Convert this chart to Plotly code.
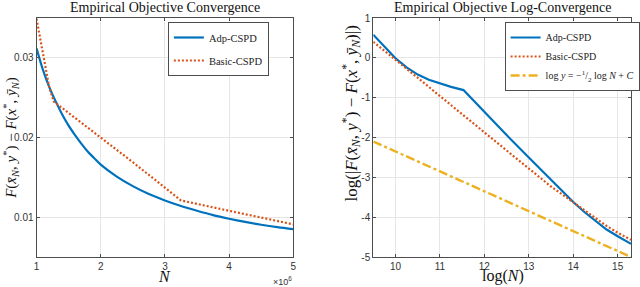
import plotly.graph_objects as go

# ---------------- data ----------------
# Left panel: N (samples) vs objective gap
n_adp = [1.0e6, 1.1e6, 1.2e6, 1.3e6, 1.4e6, 1.5e6, 1.6e6, 1.7e6, 1.8e6, 1.9e6,
         2.0e6, 2.25e6, 2.5e6, 2.75e6, 3.0e6, 3.25e6, 3.5e6, 3.75e6, 4.0e6,
         4.25e6, 4.5e6, 4.75e6, 5.0e6]
gap_adp = [0.0312, 0.0285, 0.0263, 0.0245, 0.0229, 0.0215, 0.0203, 0.0192, 0.0182, 0.0174,
           0.0166, 0.0151, 0.0139, 0.0129, 0.0121, 0.0114, 0.0108, 0.01025, 0.0098,
           0.0094, 0.00905, 0.00875, 0.0085]

n_basic = [1.0e6, 1.05e6, 1.1e6, 1.15e6, 1.2e6, 1.27e6, 2.0e6, 2.5e6, 3.0e6, 3.25e6, 4.0e6, 5.0e6]
gap_basic = [0.0349, 0.0326, 0.0305, 0.0283, 0.0262, 0.0245, 0.0200, 0.0169, 0.0137, 0.0121, 0.0108, 0.0091]

# Right panel: log(N) vs log(gap)
logn_adp = [9.5, 9.75, 10.0, 10.25, 10.5, 10.75, 11.0, 11.25, 11.53, 12.0, 12.5, 13.0,
            13.45, 13.75, 14.0, 14.25, 14.5, 14.75, 15.0, 15.3]
loggap_adp = [0.58, 0.28, -0.01, -0.24, -0.42, -0.55, -0.65, -0.73, -0.81, -1.37, -1.94, -2.50,
              -3.00, -3.33, -3.62, -3.87, -4.10, -4.31, -4.48, -4.67]

logn_basic = [9.5, 10.0, 10.5, 11.0, 11.5, 12.0, 12.5, 13.0, 13.5, 14.0, 14.5, 14.75, 15.0, 15.3]
loggap_basic = [0.40, -0.04, -0.50, -0.96, -1.42, -1.88, -2.33, -2.78, -3.23, -3.62, -4.02, -4.22, -4.39, -4.57]

logn_ref = [9.5, 15.3]
loggap_ref = [-2.10, -5.00]

left_xticks = [1e6, 2e6, 3e6, 4e6, 5e6]
left_xticktext = ["1", "2", "3", "4", "5"]
left_yticks = [0.01, 0.02, 0.03]
left_yticktext = ["0.01", "0.02", "0.03"]
right_xticks = [10, 11, 12, 13, 14, 15]
right_yticks = [1, 0, -1, -2, -3, -4, -5]
right_yticktext = ["1", "0", "-1", "-2", "-3", "-4", "-5"]

# ---------------- styling ----------------
BLUE = "#0072BD"
RED = "#D95319"
YEL = "#EDB120"
W, H = 640, 287
SERIF = "Liberation Serif, DejaVu Serif, serif"
SANS = "Liberation Sans, Arial, sans-serif"

def px(x):
    return x / W

def py(y):
    return 1 - y / H

fig = go.Figure()
fig.add_trace(go.Scatter(x=n_adp, y=gap_adp, mode="lines", name="Adp-CSPD",
                         line=dict(color=BLUE, width=2.2, shape="spline", smoothing=1.0),
                         xaxis="x", yaxis="y", legend="legend", legendgroup="a"))
fig.add_trace(go.Scatter(x=n_basic, y=gap_basic, mode="lines", name="Basic-CSPD",
                         line=dict(color=RED, width=2.2, dash="2px,2px"), xaxis="x", yaxis="y",
                         legend="legend", legendgroup="b"))
fig.add_trace(go.Scatter(x=logn_adp, y=loggap_adp, mode="lines", name="Adp-CSPD",
                         line=dict(color=BLUE, width=2.2), xaxis="x2", yaxis="y2",
                         legend="legend2"))
fig.add_trace(go.Scatter(x=logn_basic, y=loggap_basic, mode="lines", name="Basic-CSPD",
                         line=dict(color=RED, width=2.2, dash="2px,2px"), xaxis="x2", yaxis="y2",
                         legend="legend2"))
fig.add_trace(go.Scatter(x=logn_ref, y=loggap_ref, mode="lines",
                         name="log <i>y</i> = −<sup>1</sup>/<sub>2</sub> log <i>N</i> + <i>C</i>",
                         line=dict(color=YEL, width=2.4, dash="9px,3px,3px,3px"),
                         xaxis="x2", yaxis="y2", legend="legend2"))

axis_common = dict(showline=True, linecolor="#4d4d4d", linewidth=1, mirror="allticks",
                   ticks="inside", ticklen=3, tickcolor="#4d4d4d", showgrid=True,
                   gridcolor="#e6e6e6", gridwidth=1, zeroline=False, automargin=False,
                   tickfont=dict(family=SANS, size=10, color="#333333"))

y_dom = [py(257), py(18)]
fig.update_layout(
    width=W, height=H, margin=dict(l=0, r=0, t=0, b=0),
    paper_bgcolor="white", plot_bgcolor="white",
    xaxis=dict(domain=[px(37), px(297)], range=[1e6, 5e6], tickvals=left_xticks,
               ticktext=left_xticktext, anchor="y", **axis_common),
    yaxis=dict(domain=y_dom, range=[0.005, 0.035], tickvals=left_yticks,
               ticktext=left_yticktext, anchor="x", **axis_common),
    xaxis2=dict(domain=[px(378), px(639)], range=[9.5, 15.3], tickvals=right_xticks,
                anchor="y2", **axis_common),
    yaxis2=dict(domain=y_dom, range=[-5, 1], tickvals=right_yticks,
                ticktext=right_yticktext, anchor="x2", **axis_common),
    legend=dict(x=px(170), y=py(22), xanchor="left", yanchor="top",
                bordercolor="#4d4d4d", borderwidth=1, bgcolor="white",
                font=dict(family=SERIF, size=10.5, color="#222"), itemwidth=30,
                tracegroupgap=4),
    legend2=dict(x=px(511), y=py(22), xanchor="left", yanchor="top",
                 bordercolor="#4d4d4d", borderwidth=1, bgcolor="white",
                 font=dict(family=SERIF, size=10, color="#222"), itemwidth=30,
                 tracegroupgap=0),
    showlegend=True,
)

ann = []
# Titles
ann.append(dict(text="Empirical Objective Convergence", x=px(167), y=py(8),
                font=dict(family=SERIF, size=14, color="#111")))
ann.append(dict(text="Empirical Objective Log-Convergence", x=px(509), y=py(8),
                font=dict(family=SERIF, size=14, color="#111")))
# x labels
ann.append(dict(text="<i>N</i>", x=px(167), y=py(287), yanchor="bottom",
                font=dict(family=SERIF, size=16, color="#111")))
ann.append(dict(text="log(<i>N</i>)", x=px(509), y=py(287), yanchor="bottom",
                font=dict(family=SERIF, size=16, color="#111")))
# x10^6
ann.append(dict(text="×10<sup>6</sup>", x=px(298), y=py(281), xanchor="right",
                font=dict(family=SANS, size=9, color="#333")))
# y labels
ann.append(dict(text="<i>F</i>(<i>x̄</i><sub><i>N</i></sub>, <i>y</i><sup>*</sup>) − "
                     "<i>F</i>(<i>x</i><sup>*</sup>, <i>ȳ</i><sub><i>N</i></sub>)",
                x=px(11), y=py(138), textangle=-90,
                font=dict(family=SERIF, size=15, color="#111")))
ann.append(dict(text="log(|<i>F</i>(<i>x̄</i><sub><i>N</i></sub>, <i>y</i><sup>*</sup>) − "
                     "<i>F</i>(<i>x</i><sup>*</sup>, <i>ȳ</i><sub><i>N</i></sub>)|)",
                x=px(355), y=py(114), textangle=-90,
                font=dict(family=SERIF, size=17, color="#111")))
for a in ann:
    a.update(xref="paper", yref="paper", showarrow=False)
    a.setdefault("xanchor", "center")
    a.setdefault("yanchor", "middle")
fig.update_layout(annotations=ann)

fig.write_html("out.html", config={"displayModeBar": False},
               post_script="document.body.style.margin='0';")
